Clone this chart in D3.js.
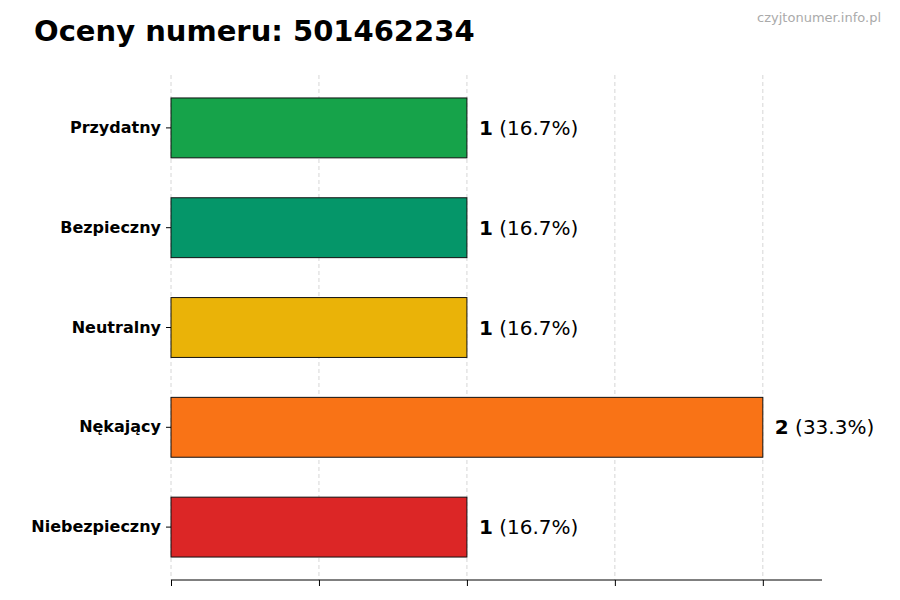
<!DOCTYPE html>
<html><head><meta charset="utf-8">
<script src="https://cdn.jsdelivr.net/npm/d3@7"></script>
<style>body{margin:0;background:#fff}text{font-family:"DejaVu Sans",sans-serif}</style>
</head><body>
<svg width="900" height="600"></svg>
<script>
var categories = ["Przydatny", "Bezpieczny", "Neutralny", "Nękający", "Niebezpieczny"];
var counts = [1, 1, 1, 2, 1];
var percents = ["16.7%", "16.7%", "16.7%", "33.3%", "16.7%"];
var colors = ["#16a34a", "#059669", "#eab308", "#f97316", "#dc2626"];
var xTicks = [0, 0.5, 1, 1.5, 2];

var svg = d3.select("svg");
var x = d3.scaleLinear().domain([0, 2.2]).range([171, 822]);
var y = d3.scaleBand().domain(categories).range([78, 577]).paddingInner(0.4).paddingOuter(0.2);

svg.append("text").attr("x", 34).attr("y", 41).attr("font-size", 29).attr("font-weight", "bold")
    .text("Oceny numeru: 501462234");
svg.append("text").attr("x", 881).attr("y", 22).attr("text-anchor", "end").attr("font-size", 13)
    .attr("fill", "#aaa").text("czyjtonumer.info.pl");

svg.append("g").selectAll("line").data(xTicks).join("line")
    .attr("x1", d => x(d)).attr("x2", d => x(d)).attr("y1", 75).attr("y2", 580)
    .attr("stroke", "#ccc").attr("stroke-dasharray", "4,3").attr("stroke-width", 0.8);

svg.append("g").selectAll("rect").data(categories).join("rect")
    .attr("x", x(0)).attr("y", d => y(d))
    .attr("width", (d, i) => x(counts[i]) - x(0)).attr("height", y.bandwidth())
    .attr("fill", (d, i) => colors[i]).attr("stroke", "#111").attr("stroke-width", 1);

var lab = svg.append("g").selectAll("text").data(categories).join("text")
    .attr("x", (d, i) => x(counts[i]) + 12).attr("y", d => y(d) + y.bandwidth() / 2)
    .attr("dy", "0.35em").attr("font-size", 20);
lab.append("tspan").attr("font-weight", "bold").text((d, i) => counts[i]);
lab.append("tspan").text((d, i) => " (" + percents[i] + ")");

var ax = svg.append("g").attr("transform", "translate(0,580)")
    .call(d3.axisBottom(x).tickValues(xTicks).tickFormat("").tickSizeOuter(0));
ax.select(".domain").attr("d", "M171,0H822");

var ay = svg.append("g").attr("transform", "translate(171,0)")
    .call(d3.axisLeft(y).tickSize(5).tickPadding(5));
ay.select(".domain").remove();
ay.selectAll("text").attr("font-size", 16).attr("font-weight", "bold").attr("fill", "#000")
    .style("font-family", "DejaVu Sans");
</script>
</body></html>
